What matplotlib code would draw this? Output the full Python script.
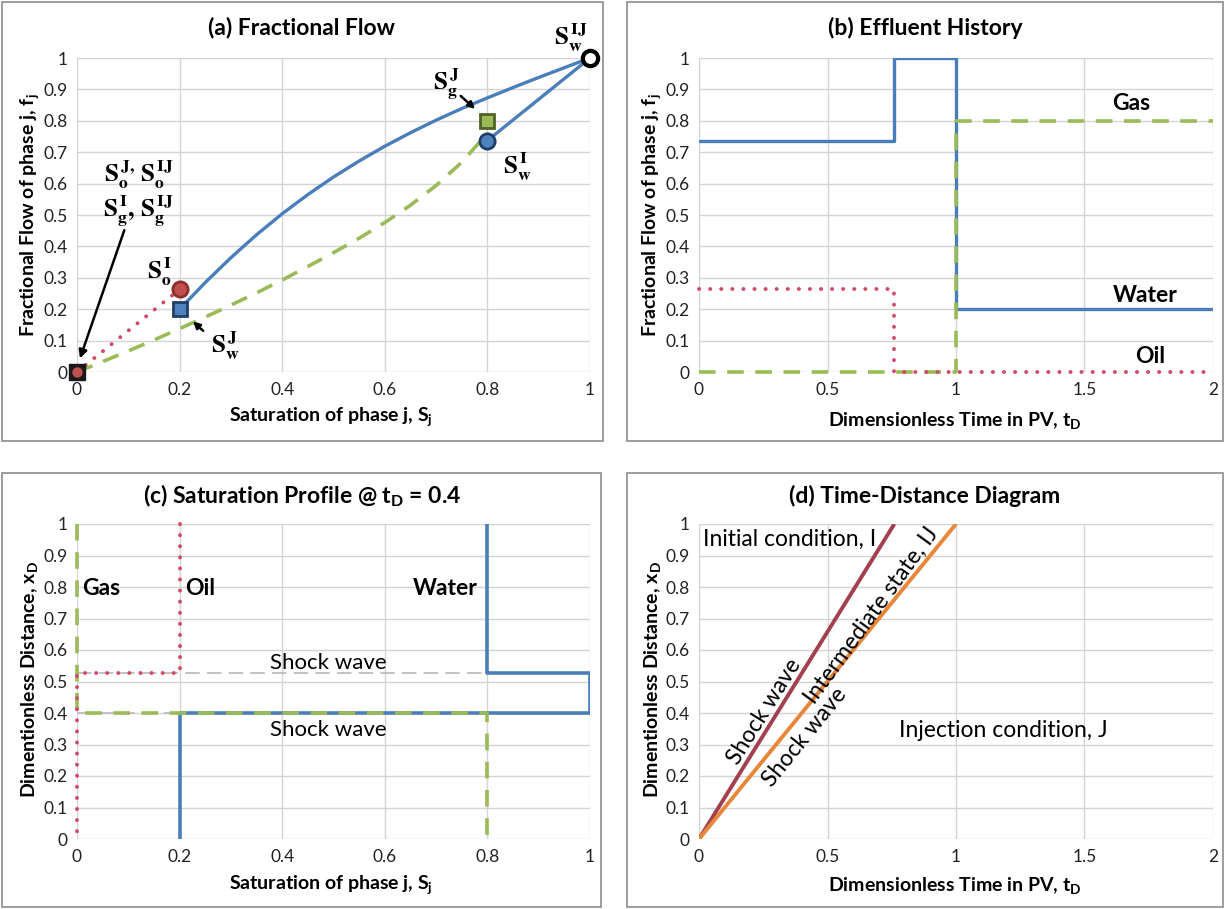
import matplotlib
matplotlib.use("Agg")
import matplotlib.pyplot as plt
from matplotlib.patches import Rectangle
import numpy as np

plt.rcParams['font.family'] = ['Lato', 'DejaVu Sans']
plt.rcParams['mathtext.fontset'] = 'custom'
plt.rcParams['mathtext.rm'] = 'Lato'
plt.rcParams['mathtext.it'] = 'Lato:italic'
plt.rcParams['mathtext.bf'] = 'Lato:bold'

# ---------------- data ----------------
# (a) fractional flow
sw_curve = [0.2, 0.25, 0.3, 0.35, 0.4, 0.45, 0.5, 0.55, 0.6, 0.65, 0.7, 0.75, 0.8,
            0.85, 0.9, 0.95, 1.0]
fw_curve = [0.2, 0.285, 0.364, 0.437, 0.504, 0.565, 0.621, 0.672, 0.719, 0.762, 0.802,
            0.839, 0.873, 0.906, 0.938, 0.969, 1.0]
sg_curve = [0.0, 0.05, 0.1, 0.15, 0.2, 0.25, 0.3, 0.35, 0.4, 0.45, 0.5, 0.55, 0.6,
            0.65, 0.7, 0.75, 0.8]
fg_curve = [0.0, 0.033, 0.067, 0.102, 0.138, 0.175, 0.213, 0.252, 0.293, 0.336, 0.38,
            0.426, 0.476, 0.531, 0.594, 0.668, 0.76]
so_line = [0.0, 0.2]
fo_line = [0.0, 0.263]
sw_tie = [0.8, 1.0]
fw_tie = [0.737, 1.0]

# (b) effluent history
t_water = [0, 0.76, 0.76, 1, 1, 2]
f_water = [0.737, 0.737, 1, 1, 0.2, 0.2]
t_gas = [0, 1, 1, 2]
f_gas = [0, 0, 0.8, 0.8]
t_oil = [0, 0.76, 0.76, 2]
f_oil = [0.263, 0.263, 0, 0]

# (c) saturation profile at tD = 0.4
s_water = [0.8, 0.8, 1, 1, 0.2, 0.2]
x_water = [1, 0.527, 0.527, 0.4, 0.4, 0]
s_oil = [0.2, 0.2, 0, 0]
x_oil = [1, 0.527, 0.527, 0]
s_gas = [0, 0, 0.8, 0.8]
x_gas = [1, 0.4, 0.4, 0]
shock_x = [0.527, 0.4]

# (d) time-distance
t_shock1 = [0, 0.76]
x_shock1 = [0, 1]
t_shock2 = [0, 1]
x_shock2 = [0, 1]

BLUE = '#4A7EBB'
GREEN = '#9BBB59'
RED = '#D04A6A'
MAROON = '#A3404F'
ORANGE = '#E8873A'
GRID = '#D4D4D4'
TXT = '#222222'
DOT = (0, (0.05, 2.8))
DASH = (0, (4.6, 3.2))

W, H = 1225, 909
fig = plt.figure(figsize=(W / 100, H / 100), dpi=100)


def px_axes(x0, x1, y0, y1):
    return fig.add_axes([x0 / W, 1 - y1 / H, (x1 - x0) / W, (y1 - y0) / H])


def style(ax, xt, xl, yt, yl):
    ax.set_xticks(xt)
    ax.set_xticklabels(xl)
    ax.set_yticks(yt)
    ax.set_yticklabels(yl)
    ax.grid(True, color=GRID, lw=1)
    ax.set_axisbelow(True)
    for s in ax.spines.values():
        s.set_visible(False)
    ax.tick_params(length=0, labelsize=12.5, colors=TXT, pad=7)


def frame(x0, x1, y0, y1):
    fig.patches.append(Rectangle((x0 / W, 1 - y1 / H), (x1 - x0) / W, (y1 - y0) / H,
                                 transform=fig.transFigure, fill=False,
                                 edgecolor='#8C8C8C', lw=1.2))


def ftext(x, y, s, **kw):
    fig.text(x / W, 1 - y / H, s, **kw)


TITLE = dict(fontsize=16.5, fontweight='bold', ha='center', va='center')
LAB = dict(fontsize=14, fontweight='bold', ha='center', va='center')
BIG = dict(fontsize=16.5, fontweight='bold', ha='center', va='center')

frame(2, 603, 2, 441)
frame(627, 1223, 2, 441)
frame(2, 601, 473, 907)
frame(627, 1223, 473, 907)

yt = np.round(np.arange(0, 1.01, 0.1), 1)
ylab = ['0'] + [f'{v:.1f}' for v in yt[1:-1]] + ['1']
xt_s = [0, 0.2, 0.4, 0.6, 0.8, 1.0]
xl_s = ['0', '0.2', '0.4', '0.6', '0.8', '1']
xt_t = [0, 0.5, 1, 1.5, 2]
xl_t = ['0', '0.5', '1', '1.5', '2']

# ---------------- (a) ----------------
ax = px_axes(77, 590, 58, 372)
ax.set_xlim(0, 1)
ax.set_ylim(0, 1)
style(ax, xt_s, xl_s, yt, ylab)
ax.plot(sg_curve, fg_curve, color=GREEN, lw=2.6, ls=DASH)
ax.plot(so_line, fo_line, color=RED, lw=2.8, ls=DOT, dash_capstyle='round')
ax.plot(sw_curve, fw_curve, color=BLUE, lw=2.4, solid_joinstyle='round')
ax.plot(sw_tie, fw_tie, color=BLUE, lw=2.4)
ax.plot(0, 0, marker='s', ms=11, mfc='#1a1a1a', mec='#1a1a1a', clip_on=False, zorder=5)
ax.plot(0, 0, marker='o', ms=6.5, mfc='#C0504D', mec='#C0504D', clip_on=False, zorder=6)
ax.plot(0.2, 0.263, marker='o', ms=11, mfc='#C0504D', mec='#8C2F2D', mew=2, zorder=5)
ax.plot(0.2, 0.2, marker='s', ms=10.5, mfc='#4F81BD', mec='#1F3F6A', mew=2, zorder=5)
ax.plot(0.8, 0.8, marker='s', ms=10.5, mfc='#9BBB59', mec='#4F6228', mew=2, zorder=5)
ax.plot(0.8, 0.737, marker='o', ms=11, mfc='#4F81BD', mec='#1F3F6A', mew=2, zorder=5)
ax.plot(1, 1, marker='o', ms=11, mfc='white', mec='black', mew=3, clip_on=False, zorder=6)

ser = dict(fontsize=18, math_fontfamily='stix', ha='center', va='center', color='black')
ax.text(0.12, 0.627, r'$\mathbf{S_o^{\,J,}\,S_o^{\,IJ}}$', **ser)
ax.text(0.12, 0.51, r'$\mathbf{S_g^{\,I},\,S_g^{\,IJ}}$', **ser)
ax.annotate('', xy=(0.004, 0.035), xytext=(0.094, 0.46),
            arrowprops=dict(arrowstyle='-|>', color='black', lw=1.8, mutation_scale=12))
ax.text(0.16, 0.32, r'$\mathbf{S_o^{\,I}}$', **ser)
ax.text(0.29, 0.085, r'$\mathbf{S_w^{\,J}}$', **ser)
ax.annotate('', xy=(0.222, 0.167), xytext=(0.25, 0.125),
            arrowprops=dict(arrowstyle='-|>', color='black', lw=1.8, mutation_scale=10))
ax.text(0.72, 0.915, r'$\mathbf{S_g^{\,J}}$', **ser)
ax.annotate('', xy=(0.78, 0.832), xytext=(0.744, 0.885),
            arrowprops=dict(arrowstyle='-|>', color='black', lw=1.8, mutation_scale=10))
ax.text(0.858, 0.655, r'$\mathbf{S_w^{\,I}}$', **ser)
ax.text(0.962, 1.065, r'$\mathbf{S_w^{\,IJ}}$', clip_on=False, **ser)

ftext(302, 28, '(a) Fractional Flow', **TITLE)
ftext(331, 417, r'Saturation of phase j, $\mathbf{S_j}$', **LAB)
ftext(30, 215, r'Fractional Flow of phase j, $\mathbf{f_j}$', rotation=90, **LAB)

# ---------------- (b) ----------------
ax = px_axes(699, 1213, 58, 372)
ax.set_xlim(0, 2)
ax.set_ylim(0, 1)
style(ax, xt_t, xl_t, yt, ylab)
ax.plot(t_water, f_water, color=BLUE, lw=2.4)
ax.plot(t_gas, f_gas, color=GREEN, lw=2.6, ls=DASH, clip_on=False)
ax.plot(t_oil, f_oil, color=RED, lw=2.8, ls=DOT, dash_capstyle='round', clip_on=False)
ax.text(1.68, 0.855, 'Gas', **BIG)
ax.text(1.735, 0.245, 'Water', **BIG)
ax.text(1.755, 0.048, 'Oil', **BIG)
ftext(925, 28, '(b) Effluent History', **TITLE)
ftext(955, 420, r'Dimensionless Time in PV, $\mathbf{t_D}$', **LAB)
ftext(652, 215, r'Fractional Flow of phase j, $\mathbf{f_j}$', rotation=90, **LAB)

# ---------------- (c) ----------------
ax = px_axes(77, 590, 524, 839)
ax.set_xlim(0, 1)
ax.set_ylim(0, 1)
style(ax, xt_s, xl_s, yt, ylab)
for xs in shock_x:
    ax.axhline(xs, color='#BDBDBD', lw=1.3, dashes=(8, 4), zorder=1)
ax.plot(s_water, x_water, color=BLUE, lw=2.6, zorder=3)
ax.plot(s_gas, x_gas, color=GREEN, lw=2.6, ls=DASH, clip_on=False, zorder=4)
ax.plot(s_oil, x_oil, color=RED, lw=2.8, ls=DOT, dash_capstyle='round',
        clip_on=False, zorder=4)
ax.text(0.49, 0.56, 'Shock wave', fontsize=16, ha='center', va='center')
ax.text(0.49, 0.345, 'Shock wave', fontsize=16, ha='center', va='center')
ax.text(0.047, 0.795, 'Gas', **BIG)
ax.text(0.24, 0.795, 'Oil', **BIG)
ax.text(0.717, 0.795, 'Water', **BIG)
ftext(302, 496, r'(c) Saturation Profile @ $\mathbf{t_D}$ = 0.4', **TITLE)
ftext(331, 885, r'Saturation of phase j, $\mathbf{S_j}$', **LAB)
ftext(30, 680, r'Dimentionless Distance, $\mathbf{x_D}$', rotation=90, **LAB)

# ---------------- (d) ----------------
ax = px_axes(699, 1213, 524, 839)
ax.set_xlim(0, 2)
ax.set_ylim(0, 1)
style(ax, xt_t, xl_t, yt, ylab)
ax.plot(t_shock1, x_shock1, color=MAROON, lw=2.8, solid_capstyle='butt')
ax.plot(t_shock2, x_shock2, color=ORANGE, lw=2.8, solid_capstyle='butt')
ax.text(0.016, 0.95, 'Initial condition, I', fontsize=16.5, ha='left', va='center')
ax.text(1.183, 0.343, 'Injection condition, J', fontsize=16.5, ha='center', va='center')
ax.text(0.253, 0.403, 'Shock wave', fontsize=16.5, ha='center', va='center',
        rotation=58, rotation_mode='anchor')
ax.text(0.673, 0.711, 'Intermediate state, IJ', fontsize=16.5, ha='center', va='center',
        rotation=54, rotation_mode='anchor')
ax.text(0.412, 0.324, 'Shock wave', fontsize=16.5, ha='center', va='center',
        rotation=51, rotation_mode='anchor')
ftext(925, 496, '(d) Time-Distance Diagram', **TITLE)
ftext(955, 886, r'Dimensionless Time in PV, $\mathbf{t_D}$', **LAB)
ftext(652, 680, r'Dimentionless Distance, $\mathbf{x_D}$', rotation=90, **LAB)

fig.savefig('out.png', dpi=100)
